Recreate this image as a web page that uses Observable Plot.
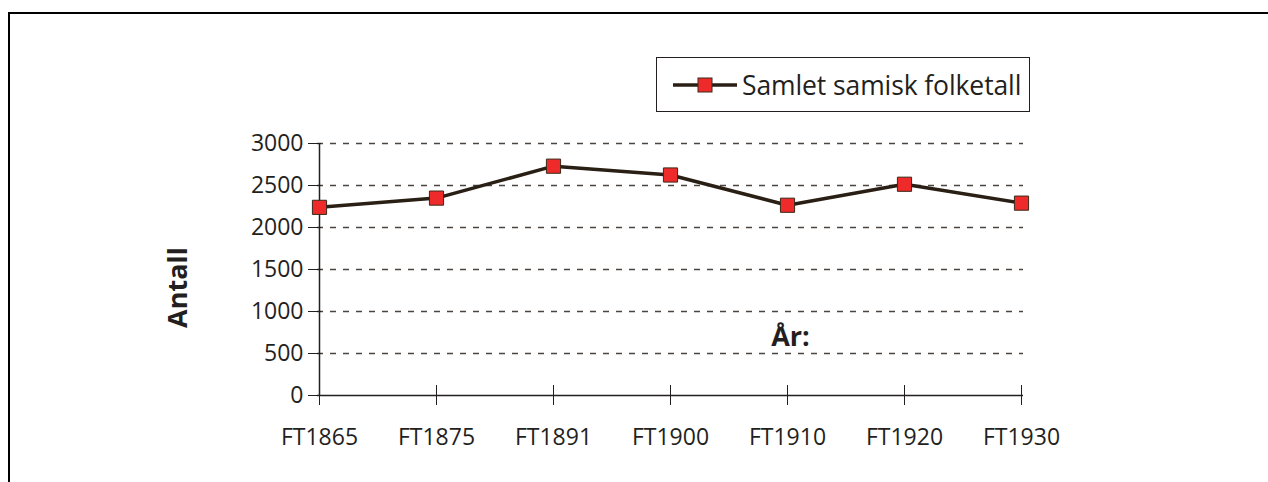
<!DOCTYPE html>
<html><head><meta charset="utf-8">
<script src="https://cdn.jsdelivr.net/npm/d3@7"></script>
<script src="https://cdn.jsdelivr.net/npm/@observablehq/plot@0.6"></script>
<style>
body{margin:0;background:#fff;}
#wrap{position:relative;width:1268px;height:482px;overflow:hidden;font-family:"Open Sans",sans-serif;color:#231f20;}
#border{position:absolute;left:8px;top:12px;right:-5px;bottom:-5px;border-top:2.5px solid #000;border-left:2.5px solid #000;}
#chart{position:absolute;left:0;top:0;}
#legend{position:absolute;left:656px;top:57px;width:374px;height:55px;border:1px solid #231f20;box-sizing:border-box;background:#fff;display:flex;align-items:center;}
#legend svg{margin-left:16px;}
#legend span{font-size:26.5px;margin-left:5px;letter-spacing:-0.1px;}
</style>
</head><body>
<div id="wrap">
  <div id="border"></div>
  <div id="chart"></div>
  <div id="legend"></div>
</div>
<script>
const categories = ["FT1865","FT1875","FT1891","FT1900","FT1910","FT1920","FT1930"];
const population = [2240, 2350, 2730, 2625, 2265, 2515, 2290];
const yTicks = [0, 500, 1000, 1500, 2000, 2500, 3000];
const seriesName = "Samlet samisk folketall";
const yLabel = "Antall";
const xLabel = "År:";

const lineColor = "#2a1f14";
const markerFill = "#ee2a2a";
const markerStroke = "#3a2a1a";
const textColor = "#231f20";

const data = categories.map((c, i) => ({cat: c, value: population[i]}));

const chart = Plot.plot({
  width: 1268,
  height: 482,
  marginLeft: 317,
  marginRight: 245,
  marginTop: 143,
  marginBottom: 87,
  style: {fontFamily: '"Open Sans", sans-serif', color: textColor, background: "transparent"},
  x: {type: "point", domain: categories, padding: 0},
  y: {domain: [0, 3000]},
  marks: [
    Plot.gridY(yTicks.filter(d => d > 0), {stroke: "#4a4540", strokeOpacity: 1, strokeWidth: 1.4, strokeDasharray: "6,7"}),
    Plot.ruleY([0], {stroke: textColor, strokeWidth: 1.5}),
    Plot.ruleX([categories[0]], {y1: 0, y2: 3000, stroke: textColor, strokeWidth: 1.5}),
    Plot.axisY({ticks: yTicks, tickFormat: d3.format("d"), tickSize: 9, tickPadding: 5, fontSize: 23, label: null, stroke: textColor, fill: textColor}),
    Plot.axisY({ticks: yTicks, tickSize: -4, text: null, label: null, stroke: textColor}),
    Plot.axisX({tickSize: 10, tickPadding: 23, fontSize: 23, label: null, stroke: textColor, fill: textColor}),
    Plot.axisX({tickSize: -10, text: null, label: null, stroke: textColor}),
    Plot.text([yLabel], {frameAnchor: "left", dx: -139, dy: 18, rotate: -90, fontSize: 27, fontWeight: "bold", fill: textColor, textAnchor: "middle"}),
    Plot.text([xLabel], {frameAnchor: "bottom", dx: 120, dy: -50, fontSize: 27, fontWeight: "bold", fill: textColor, textAnchor: "middle"}),
    Plot.line(data, {x: "cat", y: "value", stroke: lineColor, strokeWidth: 3.5}),
    Plot.dot(data, {x: "cat", y: "value", symbol: "square", r: 8, fill: markerFill, stroke: markerStroke, strokeWidth: 1})
  ]
});
document.getElementById("chart").appendChild(chart);

// legend
const leg = document.getElementById("legend");
const sw = d3.create("svg").attr("width", 64).attr("height", 20);
sw.append("line").attr("x1", 0).attr("x2", 64).attr("y1", 10).attr("y2", 10).attr("stroke", lineColor).attr("stroke-width", 3.5);
sw.append("rect").attr("x", 25).attr("y", 3).attr("width", 14).attr("height", 14).attr("fill", markerFill).attr("stroke", markerStroke).attr("stroke-width", 1);
leg.appendChild(sw.node());
const sp = document.createElement("span");
sp.textContent = seriesName;
leg.appendChild(sp);
</script>
</body></html>
